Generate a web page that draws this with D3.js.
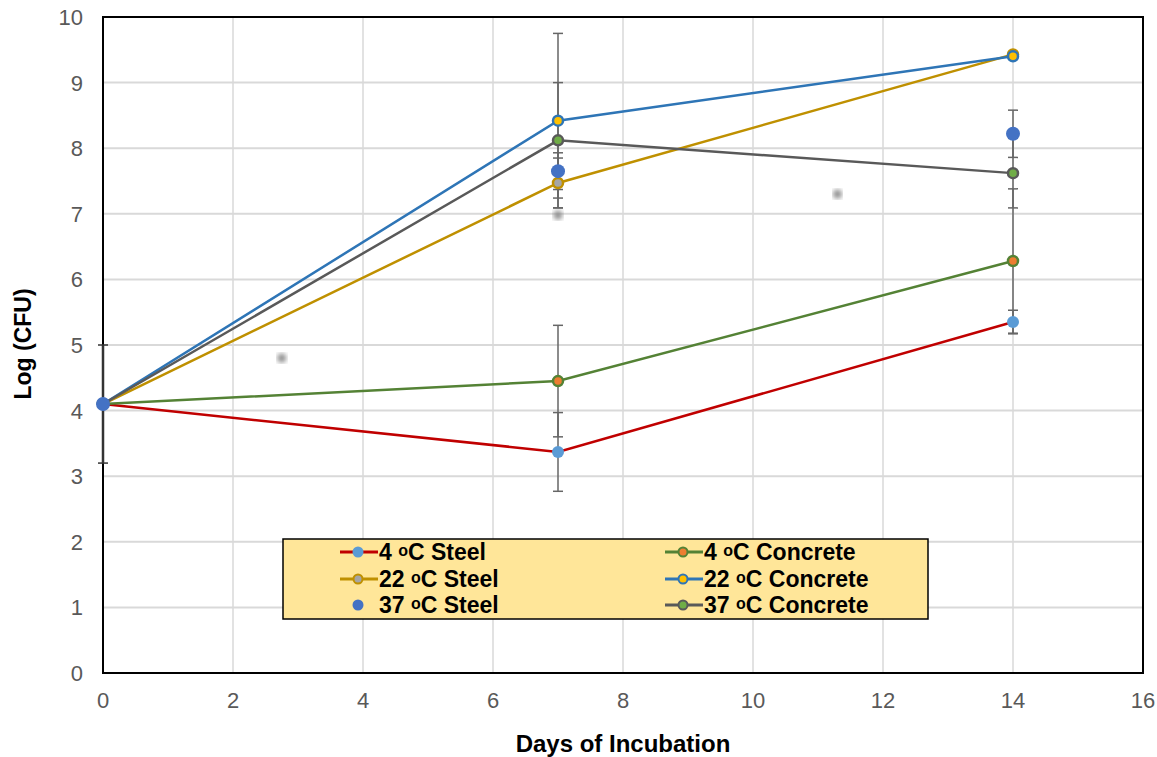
<!DOCTYPE html>
<html>
<head>
<meta charset="utf-8">
<script src="https://cdn.jsdelivr.net/npm/d3@7"></script>
<style>
  body { margin: 0; background: #fff; }
  text { font-family: "Liberation Sans", Arial, sans-serif; }
</style>
</head>
<body>
<div id="chart"></div>
<script>
// data
var days = [0, 7, 14];
var xTicks = [0, 2, 4, 6, 8, 10, 12, 14, 16];
var yTicks = [0, 1, 2, 3, 4, 5, 6, 7, 8, 9, 10];

var steel4 = [4.1, 3.37, 5.35];
var concrete4 = [4.1, 4.45, 6.28];
var steel22 = [4.1, 7.47, 9.43];
var concrete22 = [4.1, 8.42, 9.40];
var steel37 = [4.1, 7.65, 8.22];
var concrete37 = [4.1, 8.12, 7.62];

var errSteel4 = [0, 0.60, 0.18];
var errConcrete4 = [0.90, 0.85, 1.10];
var errSteel22 = [0, 0.38, 0];
var errConcrete22 = [0, 1.33, 0];
var errSteel37 = [0, 0.28, 0.36];
var errConcrete37 = [0, 0.88, 0.53];

// label = temperature + material, "o" drawn as a small raised letter
var seriesTemp = ["4", "4", "22", "22", "37", "37"];
var seriesMat = ["Steel", "Concrete", "Steel", "Concrete", "Steel", "Concrete"];

// faint grey smudges visible in the picture
var smudgeX = [2.75, 11.3, 7.0];
var smudgeY = [4.8, 7.3, 6.98];

var series = [
  {vals: steel4, err: errSteel4, line: "#C00000", fill: "#5B9BD5", stroke: "none", r: 6},
  {vals: concrete4, err: errConcrete4, line: "#548235", fill: "#ED7D31", stroke: "#548235", r: 5},
  {vals: steel22, err: errSteel22, line: "#BF9000", fill: "#A5A5A5", stroke: "#BF9000", r: 5},
  {vals: concrete22, err: errConcrete22, line: "#2E75B6", fill: "#FFC000", stroke: "#2E75B6", r: 5},
  {vals: steel37, err: errSteel37, line: null, fill: "#4472C4", stroke: "none", r: 7},
  {vals: concrete37, err: errConcrete37, line: "#595959", fill: "#70AD47", stroke: "#595959", r: 5}
];
series.forEach(function(s, i) { s.temp = seriesTemp[i]; s.mat = seriesMat[i]; });

var W = 1157, H = 757;
var svg = d3.select("#chart").append("svg")
  .attr("width", W)
  .attr("height", H);

var x = d3.scaleLinear().domain([0, 16]).range([103, 1143]);
var y = d3.scaleLinear().domain([0, 10]).range([673, 17]);

// grid
svg.append("g").selectAll("line.h")
  .data(yTicks.slice(1)).enter().append("line")
  .attr("x1", x(0)).attr("x2", x(16))
  .attr("y1", d => y(d)).attr("y2", d => y(d))
  .attr("stroke", "#D9D9D9").attr("stroke-width", 2);
svg.append("g").selectAll("line.v")
  .data(xTicks.slice(1)).enter().append("line")
  .attr("x1", d => x(d)).attr("x2", d => x(d))
  .attr("y1", y(0)).attr("y2", y(10))
  .attr("stroke", "#D9D9D9").attr("stroke-width", 1.5);

// smudges
var defs = svg.append("defs");
defs.append("filter").attr("id", "blur")
  .append("feGaussianBlur").attr("stdDeviation", 2.5);
svg.append("g").selectAll("circle")
  .data(smudgeX).enter().append("circle")
  .attr("cx", d => x(d)).attr("cy", (d, i) => y(smudgeY[i]))
  .attr("r", 4.5).attr("fill", "#888")
  .attr("filter", "url(#blur)");

// frame
svg.append("rect")
  .attr("x", x(0)).attr("y", y(10))
  .attr("width", x(16) - x(0)).attr("height", y(0) - y(10))
  .attr("fill", "none").attr("stroke", "#000").attr("stroke-width", 2);

// tick labels
svg.append("g").selectAll("text")
  .data(yTicks).enter().append("text")
  .attr("x", 83).attr("y", d => y(d) + 8)
  .attr("text-anchor", "end")
  .attr("font-size", 22).attr("fill", "#595959")
  .text(d => d);
svg.append("g").selectAll("text")
  .data(xTicks).enter().append("text")
  .attr("x", d => x(d)).attr("y", 708)
  .attr("text-anchor", "middle")
  .attr("font-size", 22).attr("fill", "#595959")
  .text(d => d);

// axis titles
svg.append("text")
  .attr("x", 623).attr("y", 752)
  .attr("text-anchor", "middle")
  .attr("font-size", 24).attr("font-weight", "bold")
  .text("Days of Incubation");
svg.append("text")
  .attr("transform", "translate(31," + 344 + ") rotate(-90)")
  .attr("text-anchor", "middle")
  .attr("font-size", 23).attr("font-weight", "bold")
  .text("Log (CFU)");

// error bars
var eb = svg.append("g");
series.forEach(function(s) {
  days.forEach(function(d, i) {
    var e = s.err[i];
    if (!e) return;
    var cx = x(d), y1 = y(s.vals[i] + e), y2 = y(s.vals[i] - e);
    var col = d === 0 ? "#333" : "#666";
    eb.append("line").attr("x1", cx).attr("x2", cx).attr("y1", y1).attr("y2", y2)
      .attr("stroke", col).attr("stroke-width", d === 0 ? 2.5 : 1.5);
    [y1, y2].forEach(function(yy) {
      eb.append("line").attr("x1", cx - 5).attr("x2", cx + 5).attr("y1", yy).attr("y2", yy)
        .attr("stroke", col).attr("stroke-width", 1.5);
    });
  });
});

// lines and markers
var lineGen = d3.line().x((d, i) => x(days[i])).y(d => y(d));
series.forEach(function(s) {
  if (s.line) {
    svg.append("path").datum(s.vals)
      .attr("d", lineGen)
      .attr("fill", "none").attr("stroke", s.line).attr("stroke-width", 2.5);
  }
});
// 37 C steel markers end up on top in the picture
[0, 1, 2, 3, 5, 4].forEach(function(k) {
  var s = series[k];
  svg.append("g").selectAll("circle")
    .data(s.vals).enter().append("circle")
    .attr("cx", (d, i) => x(days[i])).attr("cy", d => y(d))
    .attr("r", s.r)
    .attr("fill", s.fill)
    .attr("stroke", s.stroke).attr("stroke-width", 2.5);
});

// legend
var lg = svg.append("g");
lg.append("rect").attr("x", 283).attr("y", 539).attr("width", 645).attr("height", 80)
  .attr("fill", "#FFE699").attr("stroke", "#000").attr("stroke-width", 1.5);
var colX = [340, 665];
var rowY = [552, 579, 605];
series.forEach(function(s, i) {
  var gx = colX[i % 2], gy = rowY[Math.floor(i / 2)];
  if (s.line) {
    lg.append("line").attr("x1", gx).attr("x2", gx + 38).attr("y1", gy).attr("y2", gy)
      .attr("stroke", s.line).attr("stroke-width", 3);
  }
  lg.append("circle").attr("cx", gx + 18).attr("cy", gy)
    .attr("r", s.stroke === "none" ? 5.5 : 4.5)
    .attr("fill", s.fill).attr("stroke", s.stroke).attr("stroke-width", 2);
  var t = lg.append("text").attr("x", gx + 39).attr("y", gy + 8)
    .attr("font-size", 23).attr("font-weight", "bold");
  t.append("tspan").text(s.temp + " ");
  t.append("tspan").attr("font-size", 16).attr("dy", -4).text("o");
  t.append("tspan").attr("dy", 4).text("C " + s.mat);
});
</script>
</body>
</html>
